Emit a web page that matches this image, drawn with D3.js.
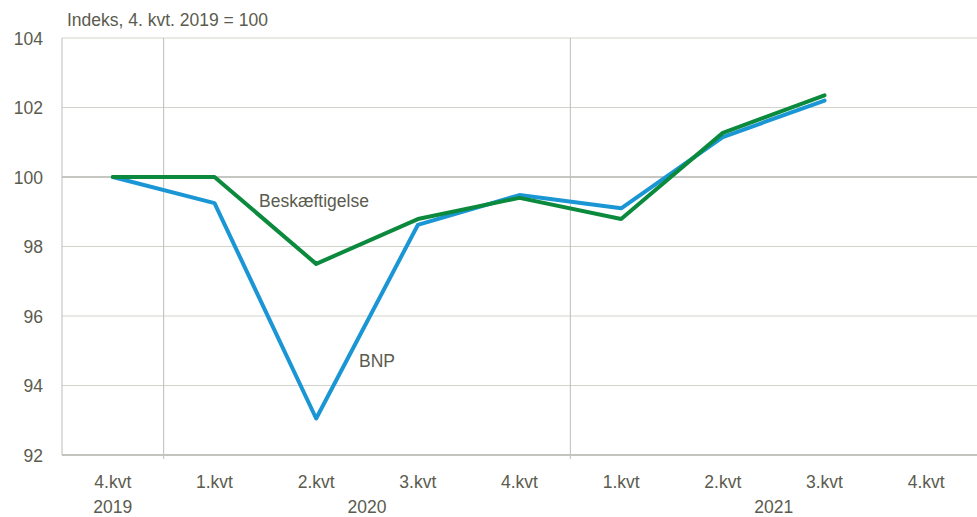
<!DOCTYPE html>
<html>
<head>
<meta charset="utf-8">
<script src="https://cdn.jsdelivr.net/npm/d3@7"></script>
<style>
body{margin:0;background:#fff;}
text{font-family:"Liberation Sans",Arial,sans-serif;fill:#5b5b4e;}
</style>
</head>
<body>
<script>
var kvartaler=["4.kvt","1.kvt","2.kvt","3.kvt","4.kvt","1.kvt","2.kvt","3.kvt","4.kvt"];
var aar=[{navn:"2019",fra:0,til:0},{navn:"2020",fra:1,til:4},{navn:"2021",fra:5,til:8}];
var bnp=[100,99.25,93.05,98.62,99.48,99.1,101.15,102.2];
var beskaeftigelse=[100,100,97.5,98.79,99.4,98.79,101.27,102.35];
var yTicks=[92,94,96,98,100,102,104];

var W=977,H=517;
var venstre=62,hoejre=977,oeverst=38,bund=455;

var svg=d3.select("body").append("svg").attr("width",W).attr("height",H);

var x=d3.scaleBand().domain(d3.range(kvartaler.length)).range([venstre,hoejre]);
var y=d3.scaleLinear().domain([92,104]).range([bund,oeverst]);

//gitter
svg.append("g").selectAll("line").data(yTicks.filter(function(d){return d!=92;}))
	.enter().append("line")
	.attr("x1",venstre).attr("x2",hoejre)
	.attr("y1",function(d){return y(d);}).attr("y2",function(d){return y(d);})
	.style("stroke",function(d){return d==100?"#8c8c84":"#d3d3ce";})
	.style("stroke-width",1);

//lodrette skillelinjer mellem aar
svg.append("g").selectAll("line").data([venstre,x(1),x(5)])
	.enter().append("line")
	.attr("x1",function(d){return d;}).attr("x2",function(d){return d;})
	.attr("y1",oeverst).attr("y2",function(d,i){return i==0?bund:bund+4;})
	.style("stroke","#bdbdb6").style("stroke-width",1);

//x-akse
svg.append("line").attr("x1",venstre).attr("x2",hoejre).attr("y1",bund).attr("y2",bund)
	.style("stroke","#c4c4be").style("stroke-width",2);

//y-akse tekster
svg.append("g").selectAll("text").data(yTicks).enter().append("text")
	.attr("x",43).attr("y",function(d){return y(d)+6.5;})
	.attr("text-anchor","end").style("font-size","17.5px")
	.text(function(d){return d;});

//kvartaler
svg.append("g").selectAll("text").data(kvartaler).enter().append("text")
	.attr("x",function(d,i){return x(i)+x.bandwidth()/2;})
	.attr("y",488).attr("text-anchor","middle").style("font-size","17.5px")
	.text(function(d){return d;});

svg.append("g").selectAll("text").data(aar).enter().append("text")
	.attr("x",function(d){return (x(d.fra)+x(d.til)+x.bandwidth())/2;})
	.attr("y",513).attr("text-anchor","middle").style("font-size","17.5px")
	.text(function(d){return d.navn;});

//titel
svg.append("text").attr("x",67).attr("y",26).style("font-size","17.5px")
	.text("Indeks, 4. kvt. 2019 = 100");

var linje=d3.line()
	.x(function(d,i){return x(i)+x.bandwidth()/2;})
	.y(function(d){return y(d);});

svg.append("path").datum(bnp).attr("d",linje)
	.style("fill","none").style("stroke","#1a96d5").style("stroke-width",4)
	.style("stroke-linejoin","round").style("stroke-linecap","round");
svg.append("path").datum(beskaeftigelse).attr("d",linje)
	.style("fill","none").style("stroke","#0b8a3e").style("stroke-width",4)
	.style("stroke-linejoin","round").style("stroke-linecap","round");

svg.append("text").attr("x",259).attr("y",207).style("font-size","17.5px").text("Beskæftigelse");
svg.append("text").attr("x",359).attr("y",367).style("font-size","17.5px").text("BNP");
</script>
</body>
</html>
